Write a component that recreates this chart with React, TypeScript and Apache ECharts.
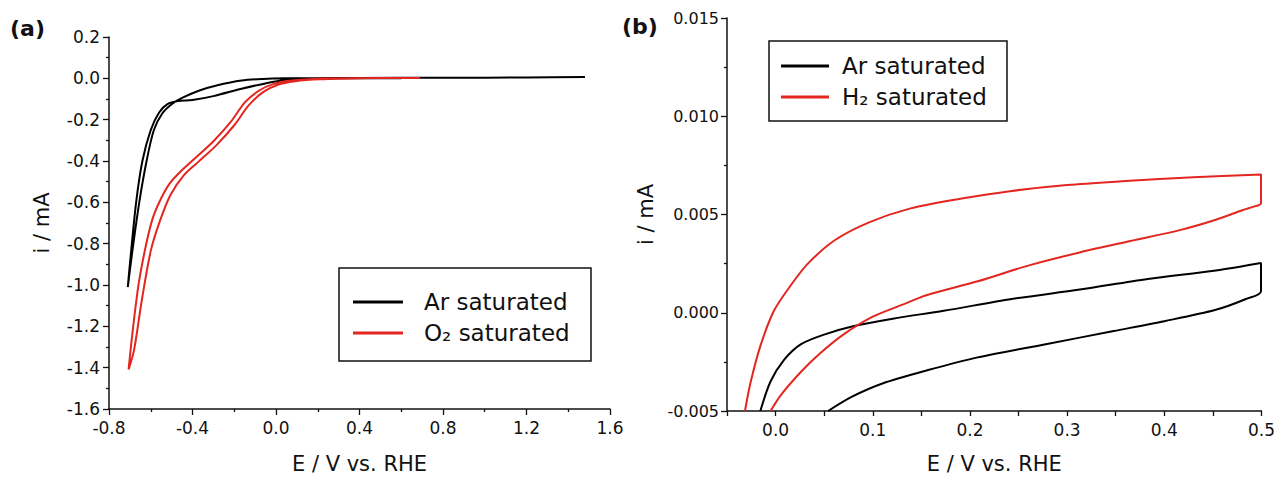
import React, { useEffect, useRef } from "react";
import * as echarts from "echarts";

const FONT = '"DejaVu Sans", "Liberation Sans", sans-serif';
const RED = "#e3261f";
const INK = "#111111";

// Panel (a): linear sweeps, [E (V vs. RHE), i (mA)]
const arSweepA: number[][] = [
  [1.48, 0.006], [1.2, 0.004], [0.8, 0.003], [0.4, 0.002], [0.2, 0.001], [0.04, 0.0],
  [-0.06, -0.003], [-0.165, -0.011], [-0.285, -0.035], [-0.37, -0.06], [-0.45, -0.095],
  [-0.5, -0.125], [-0.545, -0.17], [-0.585, -0.25], [-0.62, -0.4], [-0.655, -0.6],
  [-0.69, -0.85], [-0.71, -1.01],
  [-0.7, -0.9], [-0.67, -0.6], [-0.64, -0.4], [-0.6, -0.25], [-0.56, -0.165],
  [-0.52, -0.125], [-0.47, -0.11], [-0.4, -0.105], [-0.3, -0.086], [-0.165, -0.05],
  [-0.062, -0.027], [0.04, -0.008], [0.14, -0.002], [0.3, 0.0], [0.6, 0.001]
];
const o2SweepA: number[][] = [
  [0.69, 0.002], [0.35, 0.0], [0.18, -0.003], [0.075, -0.011], [-0.011, -0.027],
  [-0.08, -0.059], [-0.148, -0.115], [-0.217, -0.211], [-0.302, -0.307], [-0.388, -0.387],
  [-0.457, -0.451], [-0.508, -0.507], [-0.55, -0.58], [-0.59, -0.675], [-0.622, -0.803],
  [-0.658, -0.995], [-0.688, -1.235], [-0.706, -1.408],
  [-0.68, -1.315], [-0.643, -1.075], [-0.6, -0.835], [-0.556, -0.69], [-0.505, -0.563],
  [-0.44, -0.467], [-0.371, -0.403], [-0.285, -0.323], [-0.2, -0.227], [-0.131, -0.131],
  [-0.062, -0.067], [0.006, -0.032], [0.092, -0.014], [0.212, -0.005], [0.435, 0.0]
];

// Panel (b): cyclic voltammograms
const arCycleB: number[][] = [
  [-0.0157, -0.005], [-0.0052, -0.0035], [0.0087, -0.0024], [0.0262, -0.0016],
  [0.0507, -0.0011], [0.0787, -0.0007], [0.1206, -0.0003], [0.173, 0.0001],
  [0.243, 0.0007], [0.313, 0.00118], [0.383, 0.00172], [0.453, 0.00215], [0.4995, 0.00253],
  [0.4995, 0.0011], [0.484, 0.0007], [0.453, 0.00015], [0.4, -0.00043], [0.348, -0.00093],
  [0.278, -0.0016], [0.208, -0.00227], [0.156, -0.00293], [0.11, -0.0036],
  [0.0787, -0.00427], [0.054, -0.005]
];
const h2CycleB: number[][] = [
  [-0.0315, -0.005], [-0.026, -0.0036], [-0.0157, -0.0017], [-0.0017, 0.0001],
  [0.0157, 0.0014], [0.0332, 0.0025], [0.0612, 0.0037], [0.0962, 0.0046],
  [0.138, 0.0053], [0.19, 0.0058], [0.243, 0.0062], [0.3, 0.0065], [0.36, 0.0067],
  [0.43, 0.0069], [0.4995, 0.00703],
  [0.4995, 0.00557], [0.492, 0.0054], [0.481, 0.00523], [0.453, 0.00473], [0.418, 0.00423],
  [0.365, 0.00365], [0.313, 0.00307], [0.26, 0.0024], [0.208, 0.0016], [0.156, 0.0009],
  [0.13, 0.0004], [0.1, -0.0002], [0.07, -0.0011], [0.045, -0.0021], [0.0262, -0.003],
  [0.0052, -0.0042], [-0.0052, -0.005]
];

const legendA = ["Ar saturated", "O₂ saturated"];
const legendB = ["Ar saturated", "H₂ saturated"];
const panelLabels = ["(a)", "(b)"];
const axisTitleX = "E / V vs. RHE";
const axisTitleY = "i / mA";

const tickStyle = { color: INK, width: 1.3 };

function makeAxis(extra: any) {
  return {
    type: "value",
    nameLocation: "middle",
    nameTextStyle: { fontFamily: FONT, fontSize: 21, color: INK },
    axisLine: { show: true, onZero: false, lineStyle: { color: INK, width: 1.5 } },
    axisTick: { show: true, inside: false, length: 6, lineStyle: tickStyle },
    splitLine: { show: false },
    minorSplitLine: { show: false },
    ...extra,
    axisLabel: { fontFamily: FONT, fontSize: 17, color: INK, ...(extra.axisLabel || {}) },
  };
}

function legendGraphic(x: number, y: number, w: number, h: number, rows: number[], lineX: number[], textX: number, names: string[]) {
  const els: any[] = [
    { type: "rect", z: 10, shape: { x, y, width: w, height: h }, style: { fill: "#fff", stroke: INK, lineWidth: 1.5 } },
  ];
  names.forEach((n, i) => {
    els.push({ type: "line", z: 11, shape: { x1: lineX[0], y1: rows[i], x2: lineX[1], y2: rows[i] }, style: { stroke: i === 0 ? "#000" : RED, lineWidth: 3 } });
    els.push({ type: "text", z: 11, x: textX, y: rows[i], style: { text: n, fill: INK, font: `23px ${FONT}`, verticalAlign: "middle", textVerticalAlign: "middle" } });
  });
  return els;
}

export default function App() {
  const ref = useRef<HTMLDivElement>(null);
  useEffect(() => {
    const chart = echarts.init(ref.current!, null, { renderer: "svg" });
    const option: any = {
      animation: false,
      backgroundColor: "#ffffff",
      grid: [
        { left: 109, top: 37, width: 501, height: 376 },
        { left: 727, top: 18, width: 537, height: 400 },
      ],
      xAxis: [
        makeAxis({
          gridIndex: 0, min: -0.8, max: 1.6, interval: 0.4, name: axisTitleX, nameGap: 44,
          minorTick: { show: true, splitNumber: 2, length: 3, lineStyle: tickStyle },
          axisLabel: { margin: 10, formatter: (v: number) => v.toFixed(1) },
        }),
        makeAxis({
          gridIndex: 1, min: -0.05, max: 0.5, interval: 0.05, name: axisTitleX, nameGap: 42,
          axisTick: { show: true, inside: false, length: 5, lineStyle: tickStyle },
          axisLabel: {
            margin: 10,
            formatter: (v: number) => {
              const k = Math.round(v * 100);
              return k % 10 === 0 ? (k / 100).toFixed(1) : "";
            },
          },
        }),
      ],
      yAxis: [
        makeAxis({
          gridIndex: 0, min: -1.6, max: 0.2, interval: 0.2, name: axisTitleY, nameGap: 57,
          minorTick: { show: true, splitNumber: 2, length: 3, lineStyle: tickStyle },
          axisLabel: { margin: 9, formatter: (v: number) => v.toFixed(1) },
        }),
        makeAxis({
          gridIndex: 1, min: -0.005, max: 0.015, interval: 0.005, name: axisTitleY, nameGap: 71,
          minorTick: { show: true, splitNumber: 2, length: 3, lineStyle: tickStyle },
          axisLabel: { margin: 8, fontSize: 16, formatter: (v: number) => v.toFixed(3) },
        }),
      ],
      series: [
        { name: legendA[0], type: "line", xAxisIndex: 0, yAxisIndex: 0, data: arSweepA, symbol: "none", smooth: 0.3, lineStyle: { color: "#000", width: 2 } },
        { name: legendA[1], type: "line", xAxisIndex: 0, yAxisIndex: 0, data: o2SweepA, symbol: "none", smooth: 0.3, lineStyle: { color: RED, width: 2 } },
        { name: legendB[0], type: "line", xAxisIndex: 1, yAxisIndex: 1, data: arCycleB, symbol: "none", smooth: 0.3, lineStyle: { color: "#000", width: 2 } },
        { name: legendB[1], type: "line", xAxisIndex: 1, yAxisIndex: 1, data: h2CycleB, symbol: "none", smooth: 0.3, lineStyle: { color: RED, width: 2 } },
      ],
      graphic: [
        { type: "text", x: 10, y: 28, style: { text: panelLabels[0], fill: INK, font: `bold 22px ${FONT}`, verticalAlign: "middle", textVerticalAlign: "middle" } },
        { type: "text", x: 622, y: 26, style: { text: panelLabels[1], fill: INK, font: `bold 22px ${FONT}`, verticalAlign: "middle", textVerticalAlign: "middle" } },
        ...legendGraphic(339, 268, 252, 93, [302, 333], [353, 403], 424, legendA),
        ...legendGraphic(769, 41, 238, 80, [66, 97], [781, 829], 842, legendB),
      ],
    };
    chart.setOption(option);
    return () => chart.dispose();
  }, []);
  return <div ref={ref} style={{ position: "fixed", left: 0, top: 0, width: 1278, height: 479 }} />;
}
